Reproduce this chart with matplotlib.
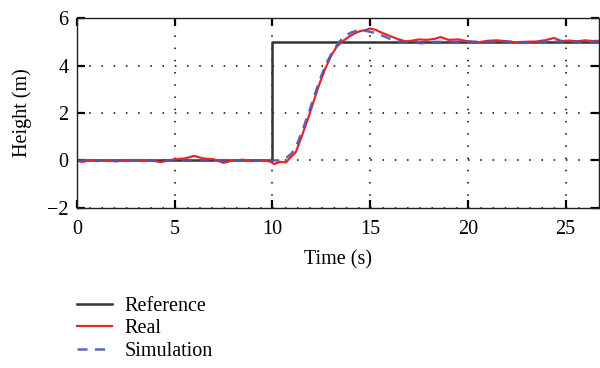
import matplotlib
matplotlib.use("Agg")
import matplotlib.pyplot as plt
import numpy as np

plt.rcParams['font.family'] = ['Liberation Serif', 'DejaVu Serif']

# Reference step
ref_t = [0, 10, 10, 27]
ref_h = [0, 0, 5, 5]

# Real measured height
real_t = [0, 0.3, 0.7, 1.0, 1.5, 2.0, 2.5, 3.0, 3.5, 4.0, 4.3, 4.7, 5.0, 5.5, 6.0, 6.5, 7.0, 7.5,
          8.0, 8.5, 9.0, 9.5, 9.9, 10.1, 10.4, 10.7, 10.9, 11.2, 11.5, 11.8, 12.1, 12.4, 12.7,
          13.0, 13.3, 13.6, 13.9, 14.2, 14.5, 14.8, 15.0, 15.3, 15.6, 16.0, 16.4, 16.8, 17.2,
          17.5, 17.9, 18.3, 18.6, 19.0, 19.5, 20.0, 20.5, 21.0, 21.5, 22.0, 22.5, 23.0, 23.5,
          24.0, 24.4, 24.8, 25.2, 25.6, 26.0, 26.4, 27.0]
real_h = [-0.02, -0.06, 0.02, -0.03, 0.01, -0.04, 0.02, -0.02, 0.01, -0.03, -0.07, 0.0, 0.05, 0.08, 0.19, 0.08, 0.05, -0.1,
          0.0, 0.03, -0.03, 0.01, -0.05, -0.15, -0.06, -0.08, 0.1, 0.35, 1.0, 1.7, 2.45, 3.2, 3.85,
          4.4, 4.8, 5.02, 5.2, 5.35, 5.45, 5.5, 5.56, 5.5, 5.38, 5.25, 5.12, 5.02, 5.05,
          5.1, 5.08, 5.12, 5.2, 5.08, 5.1, 5.02, 4.97, 5.04, 5.06, 5.02, 4.97, 5.0, 5.01,
          5.07, 5.16, 5.03, 5.05, 5.02, 5.06, 5.03, 5.05]

# Simulation height
sim_t = [0, 2, 4, 6, 8, 10.0, 10.4, 10.7, 11.0, 11.3, 11.6, 11.9, 12.2, 12.5, 12.8, 13.1, 13.4,
         13.7, 14.0, 14.3, 14.6, 14.9, 15.2, 15.5, 15.8, 16.1, 16.5, 16.8, 17.2, 17.6, 18.0,
         18.4, 19.0, 20.0, 21.0, 22.0, 23.0, 24.0, 25.0, 26.0, 27.0]
sim_h = [0, 0, 0, 0, 0, 0, 0.0, 0.1, 0.3, 0.75, 1.4, 2.1, 2.85, 3.55, 4.15, 4.6, 4.98,
         5.22, 5.38, 5.46, 5.48, 5.44, 5.38, 5.3, 5.2, 5.1, 5.0, 4.97, 5.0, 4.94, 4.97,
         5.0, 4.98, 5.01, 4.99, 5.0, 4.98, 5.0, 5.01, 4.99, 5.0]

xticks = [0, 5, 10, 15, 20, 25]
yticks = [-2, 0, 2, 4, 6]
ytick_labels = ['\u22122', '0', '2', '4', '6']

FS = 14.5

fig = plt.figure(figsize=(6.0, 3.68), dpi=100)
ax = fig.add_axes([0.128, 0.435, 0.87, 0.516])

l1, = ax.plot(ref_t, ref_h, color='#333333', lw=1.8, label='Reference')
l2, = ax.plot(real_t, real_h, color='#e8262a', lw=1.6, label='Real')
l3, = ax.plot(sim_t, sim_h, color='#4a58b0', lw=1.8, ls=(0, (4, 3)), alpha=0.9, label='Simulation')

ax.set_xlim(0, 26.7)
ax.set_ylim(-2, 6)
ax.set_xticks(xticks)
ax.set_yticks(yticks)
ax.set_yticklabels(ytick_labels)
ax.grid(True, color='black', ls=(0, (1, 7)), lw=1.1)
ax.tick_params(direction='in', top=True, right=True, length=6, width=1.6, labelsize=FS)
ax.tick_params(axis='x', pad=9)
ax.tick_params(axis='y', pad=6)
for s in ax.spines.values():
    s.set_linewidth(1.0)
    s.set_color('#222222')
ax.set_xlabel('Time (s)', fontsize=FS, labelpad=8)
ax.set_ylabel('Height (m)', fontsize=FS, labelpad=11)

fig.legend(handles=[l1, l2, l3], loc='upper left', bbox_to_anchor=(0.128, 0.194),
           frameon=False, fontsize=FS, handlelength=1.75, handletextpad=0.6,
           labelspacing=0.18, borderpad=0, borderaxespad=0)

fig.savefig('out.png', dpi=100)
